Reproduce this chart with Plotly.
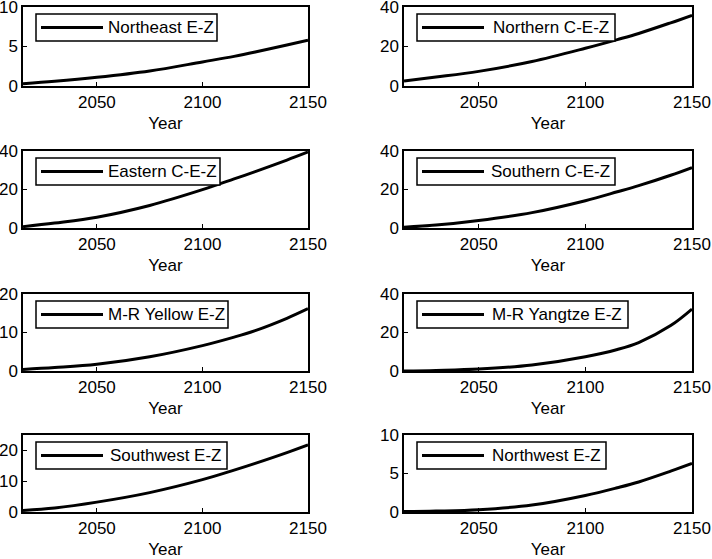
import plotly.graph_objects as go

# ---------------- data ----------------
years = [2015, 2030, 2050, 2075, 2100, 2115, 2125, 2140, 2150]
names = ["Northeast E-Z", "Northern C-E-Z", "Eastern C-E-Z", "Southern C-E-Z",
         "M-R Yellow E-Z", "M-R Yangtze E-Z", "Southwest E-Z", "Northwest E-Z"]
northeast = [0.3, 0.6, 1.1, 1.9, 3.05, 3.75, 4.3, 5.2, 5.8]
northern = [2.5, 4.5, 7.4, 12.4, 19.1, 23.5, 26.6, 32.0, 35.8]
eastern = [0.7, 2.6, 5.6, 11.7, 19.9, 25.5, 29.3, 35.3, 39.5]
southern = [0.4, 1.5, 3.9, 8.0, 14.2, 18.8, 22.0, 27.4, 31.4]
yellow = [0.4, 0.9, 1.75, 3.7, 6.6, 8.8, 10.5, 13.7, 16.2]
yangtze = [0.0, 0.3, 1.0, 3.1, 7.4, 11.2, 14.8, 23.6, 32.2]
southwest = [0.5, 1.3, 3.2, 6.3, 10.5, 13.6, 15.8, 19.3, 21.8]
northwest = [0.05, 0.12, 0.3, 0.9, 2.15, 3.15, 3.9, 5.3, 6.3]
series = [northeast, northern, eastern, southern, yellow, yangtze, southwest, northwest]
y_max = [10, 40, 40, 40, 20, 40, 25, 10]
y_dtick = [5, 20, 20, 20, 10, 20, 10, 5]
x_ticks = [2050, 2100, 2150]

# ---------------- layout geometry (pixels) ----------------
W, H = 712, 559
cols = [(23, 308), (404, 692)]
rows = [(7, 86), (151, 228), (294, 371), (435, 512)]
legend_w = [181, 198, 184, 198, 192, 211, 191, 189]
FONT = "Liberation Sans, Arial, sans-serif"

fig = go.Figure()
shapes, annotations = [], []

def px(x):
    return x / W

def py(y):
    return 1 - y / H

for i, (name, vals) in enumerate(zip(names, series)):
    r, c = divmod(i, 2)
    L, R = cols[c]
    T, B = rows[r]
    k = "" if i == 0 else str(i + 1)
    fig.add_trace(go.Scatter(x=years, y=vals, mode="lines", name=name,
                             line=dict(color="black", width=3, shape="spline", smoothing=1.0),
                             xaxis="x" + k, yaxis="y" + k, showlegend=False,
                             cliponaxis=True))
    axis_common = dict(showline=True, linecolor="black", linewidth=1.5, mirror=True,
                       ticks="inside", ticklen=4, tickcolor="black", tickwidth=1,
                       showgrid=False, zeroline=False, automargin=False,
                       ticklabeloverflow="allow",
                       tickfont=dict(family=FONT, size=17, color="black"))
    fig.layout["xaxis" + k] = dict(domain=[px(L), px(R)], anchor="y" + k,
                                   range=[2015, 2150], tickvals=x_ticks,
                                   title=dict(text="Year", standoff=6,
                                              font=dict(family=FONT, size=17, color="black")),
                                   **axis_common)
    fig.layout["yaxis" + k] = dict(domain=[py(B), py(T)], anchor="x" + k,
                                   range=[0, y_max[i]], dtick=y_dtick[i], tick0=0,
                                   **axis_common)
    # legend box
    x0 = L + 13
    x1 = x0 + legend_w[i]
    ly0, ly1 = T + 7, T + 34
    ym = (ly0 + ly1) / 2
    shapes.append(dict(type="rect", xref="paper", yref="paper",
                       x0=px(x0), x1=px(x1), y0=py(ly1), y1=py(ly0),
                       line=dict(color="black", width=1.5), fillcolor="white"))
    shapes.append(dict(type="line", xref="paper", yref="paper",
                       x0=px(x0 + 5), x1=px(x0 + 67), y0=py(ym), y1=py(ym),
                       line=dict(color="black", width=3)))
    annotations.append(dict(xref="paper", yref="paper", x=px((x0 + 67 + x1) / 2 + 1), y=py(ym),
                            xanchor="center", yanchor="middle", text=name, showarrow=False,
                            font=dict(family=FONT, size=17, color="black")))

fig.update_layout(width=W, height=H, margin=dict(l=0, r=0, t=0, b=0),
                  paper_bgcolor="white", plot_bgcolor="white",
                  shapes=shapes, annotations=annotations, showlegend=False)
fig.write_html("out.html")
